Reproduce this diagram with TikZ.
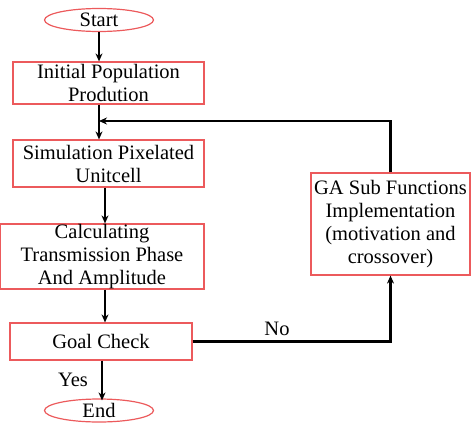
\documentclass[tikz,border=0pt]{standalone}
\usepackage{fontspec}
\setmainfont{Liberation Serif}
\usepackage{tikz}
\usetikzlibrary{shapes.geometric,arrows.meta,positioning,calc}
\definecolor{boxred}{HTML}{EC5A5C}
\newfontfamily\flowfamily{Liberation Serif}
\newcommand{\FlowChartFont}{\flowfamily\fontsize{20.5pt}{23pt}\selectfont}

\begin{document}
\begin{tikzpicture}[x=1pt,y=-1pt]
    \tikzset{
        flow step/.style={draw=boxred, line width=1.2pt, rectangle,
            align=center, inner sep=0pt, font=\FlowChartFont},
        flow terminal/.style={draw=boxred, line width=1.2pt, ellipse,
            inner sep=0pt, minimum width=109pt, minimum height=23pt,
            font=\FlowChartFont},
        flow arrow/.style={-{Stealth[length=8pt,width=7pt]}, line width=2.6pt,
            draw=black},
        flow label/.style={font=\FlowChartFont, inner sep=0pt}
    }
    \useasboundingbox (0,0) rectangle (473,428);
    % main column
    \node[flow terminal] (start) at (99,20) {Start};
    \node[flow step, minimum width=191pt, minimum height=42pt] (init-pop) at (108.5,83)
        {Initial Population\\Prodution};
    \node[flow step, minimum width=191pt, minimum height=47pt] (sim-cell) at (108.5,163.5)
        {Simulation Pixelated\\Unitcell};
    \node[flow step, minimum width=204pt, minimum height=65pt] (calc-phase) at (102,256.5)
        {Calculating\\Transmission Phase\\And Amplitude};
    \node[flow step, minimum width=182pt, minimum height=37pt] (goal-check) at (101,341.5)
        {Goal Check};
    \node[flow terminal] (finish) at (99,410.5) {End};
    % GA loop
    \node[flow step, minimum width=159pt, minimum height=102pt] (ga-funcs) at (390.5,224)
        {GA Sub Functions\\Implementation\\(motivation and\\crossover)};
    \coordinate (loop-join) at (99,121);

    \draw[flow arrow] (start.south) -- (start.south |- init-pop.north);
    \draw[flow arrow] (start.south |- init-pop.south) -- (start.south |- sim-cell.north);
    \draw[flow arrow] ([xshift=-3.5pt]sim-cell.south) -- ([xshift=-3.5pt]sim-cell.south |- calc-phase.north);
    \draw[flow arrow] ([xshift=3pt]calc-phase.south) -- ([xshift=3pt]calc-phase.south |- goal-check.north);
    \draw[flow arrow] ([xshift=1pt]goal-check.south) -- ([xshift=1pt,yshift=-2pt]goal-check.south |- finish.north);
    \draw[flow arrow] (goal-check.east) -| (ga-funcs.south);
    \draw[flow arrow] (ga-funcs.north) |- (loop-join);

    \node[flow label] (no-label) at (277,329) {No};
    \node[flow label] (yes-label) at (73,380) {Yes};
\end{tikzpicture}
\end{document}
